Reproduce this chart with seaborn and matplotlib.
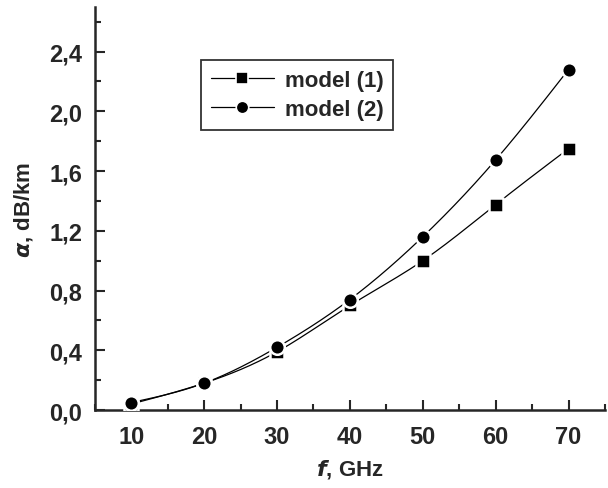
import numpy as np
import pandas as pd
import matplotlib
matplotlib.use("Agg")
import matplotlib.pyplot as plt
from matplotlib.lines import Line2D
from matplotlib.ticker import MultipleLocator, FuncFormatter
import seaborn as sns

freq = [10, 20, 30, 40, 50, 60, 70]
model1 = [0.04, 0.18, 0.39, 0.70, 1.00, 1.375, 1.75]
model2 = [0.05, 0.18, 0.42, 0.74, 1.16, 1.675, 2.28]
labels = ["model (1)", "model (2)"]
x_ticks = [10, 20, 30, 40, 50, 60, 70]
y_ticks = [0.0, 0.4, 0.8, 1.2, 1.6, 2.0, 2.4]


def natural_spline(x, y, n=300):
    x = np.asarray(x, float)
    y = np.asarray(y, float)
    k = len(x)
    h = np.diff(x)
    A = np.zeros((k, k))
    b = np.zeros(k)
    A[0, 0] = A[-1, -1] = 1
    for i in range(1, k - 1):
        A[i, i - 1] = h[i - 1]
        A[i, i] = 2 * (h[i - 1] + h[i])
        A[i, i + 1] = h[i]
        b[i] = 6 * ((y[i + 1] - y[i]) / h[i] - (y[i] - y[i - 1]) / h[i - 1])
    M = np.linalg.solve(A, b)
    xs = np.linspace(x[0], x[-1], n)
    ys = np.empty_like(xs)
    for j, xv in enumerate(xs):
        i = min(np.searchsorted(x, xv, side="right") - 1, k - 2)
        t0 = x[i + 1] - xv
        t1 = xv - x[i]
        ys[j] = (M[i] * t0**3 + M[i + 1] * t1**3) / (6 * h[i]) \
            + (y[i] / h[i] - M[i] * h[i] / 6) * t0 \
            + (y[i + 1] / h[i] - M[i + 1] * h[i] / 6) * t1
    return xs, ys


sns.set_style("ticks")
plt.rcParams["font.family"] = ["Liberation Sans", "DejaVu Sans"]
plt.rcParams["font.weight"] = "bold"

fig = plt.figure(figsize=(6.08, 4.89), dpi=100)
ax = fig.add_axes([0.156, 0.1595, 0.839, 0.8245])

markers = ["s", "o"]
for vals, mk, lab in zip([model1, model2], markers, labels):
    xs, ys = natural_spline(freq, vals)
    sns.lineplot(x=xs, y=ys, ax=ax, color="black", linewidth=0.9, legend=False)
    df = pd.DataFrame({"f": freq, "a": vals})
    sns.scatterplot(data=df, x="f", y="a", ax=ax, marker=mk, color="black",
                    s=110 if mk == "o" else 95, edgecolor="white", linewidth=1.8,
                    legend=False, zorder=3)

ax.set_xlim(5, 75)
ax.set_ylim(0, 2.7)
ax.set_xticks(x_ticks)
ax.set_yticks(y_ticks)
ax.xaxis.set_minor_locator(MultipleLocator(5))
ax.yaxis.set_minor_locator(MultipleLocator(0.2))
ax.yaxis.set_major_formatter(FuncFormatter(lambda v, p: f"{v:.1f}".replace(".", ",")))
ax.tick_params(which="major", direction="in", length=7, width=1.5, labelsize=17)
ax.tick_params(axis="y", which="major", pad=9)
ax.tick_params(axis="x", which="major", pad=11)
ax.tick_params(which="minor", direction="in", length=4, width=1.5)
for lbl in ax.get_xticklabels() + ax.get_yticklabels():
    lbl.set_fontweight("bold")
sns.despine(ax=ax)
for s in ["left", "bottom"]:
    ax.spines[s].set_linewidth(1.8)

ax.set_xlabel(r"$\mathit{f}$, GHz", fontsize=16, fontweight="bold", labelpad=6)
ax.set_ylabel(r"$\alpha$, dB/km", fontsize=16, fontweight="bold", labelpad=10)

handles = [Line2D([], [], color="black", lw=0.9, marker=m, markersize=9,
                  markeredgecolor="white", markeredgewidth=1.2) for m in markers]
leg = ax.legend(handles, labels, loc="upper left", bbox_to_anchor=(0.187, 0.895),
                frameon=True, fancybox=False, edgecolor="black",
                prop={"weight": "bold", "size": 16}, handlelength=2.8,
                borderpad=0.45, labelspacing=0.35, handletextpad=0.5)
leg.get_frame().set_linewidth(1.3)

fig.savefig("out.png", dpi=100)
